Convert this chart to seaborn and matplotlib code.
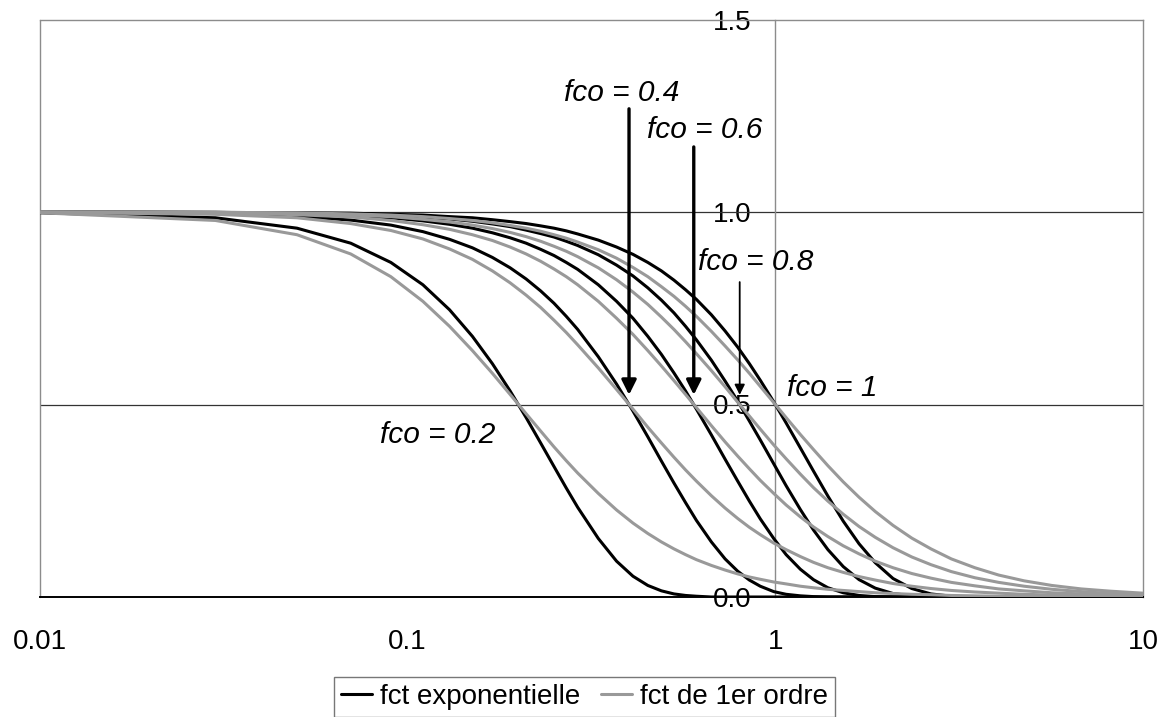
import matplotlib
matplotlib.use("Agg")
import matplotlib.pyplot as plt
import pandas as pd
import seaborn as sns
from matplotlib.lines import Line2D
from matplotlib.ticker import NullLocator

sns.set_style("white")
plt.rcParams["font.family"] = ["Liberation Sans", "DejaVu Sans"]
plt.rcParams["text.color"] = "black"
plt.rcParams["xtick.color"] = "black"
plt.rcParams["ytick.color"] = "black"
plt.rcParams["xtick.labelcolor"] = "black"
plt.rcParams["ytick.labelcolor"] = "black"

# Frequency samples (log axis)
freq = [0.01, 0.03, 0.05, 0.07, 0.09, 0.11, 0.13, 0.15, 0.17, 0.19,
        0.21, 0.23, 0.25, 0.27, 0.29, 0.33, 0.37, 0.41, 0.45, 0.49,
        0.53, 0.57, 0.61, 0.67, 0.73, 0.79, 0.85, 0.91, 0.99, 1.07,
        1.17, 1.27, 1.39, 1.53, 1.69, 1.87, 2.09, 2.35, 2.65, 3.01,
        3.49, 4.05, 4.75, 5.65, 6.79, 8.19, 9.99]

cutoffs = [0.2, 0.4, 0.6, 0.8, 1.0]

# Exponential transfer function, one list per cutoff frequency
expo_02 = [0.998, 0.985, 0.958, 0.919, 0.869, 0.811, 0.746, 0.677, 0.606, 0.535,
           0.466, 0.400, 0.339, 0.283, 0.233, 0.152, 0.093, 0.054, 0.030, 0.016,
           0.008, 0.004, 0.002, 0.000, 0.000, 0.000, 0.000, 0.000, 0.000, 0.000,
           0.000, 0.000, 0.000, 0.000, 0.000, 0.000, 0.000, 0.000, 0.000, 0.000,
           0.000, 0.000, 0.000, 0.000, 0.000, 0.000, 0.000]
expo_04 = [1.000, 0.996, 0.989, 0.979, 0.966, 0.949, 0.929, 0.907, 0.882, 0.855,
           0.826, 0.795, 0.763, 0.729, 0.695, 0.624, 0.553, 0.483, 0.416, 0.353,
           0.296, 0.245, 0.199, 0.143, 0.099, 0.067, 0.044, 0.028, 0.014, 0.007,
           0.003, 0.001, 0.000, 0.000, 0.000, 0.000, 0.000, 0.000, 0.000, 0.000,
           0.000, 0.000, 0.000, 0.000, 0.000, 0.000, 0.000]
expo_06 = [1.000, 0.998, 0.995, 0.991, 0.985, 0.977, 0.968, 0.958, 0.946, 0.933,
           0.919, 0.903, 0.887, 0.869, 0.851, 0.811, 0.768, 0.724, 0.677, 0.630,
           0.582, 0.535, 0.488, 0.421, 0.358, 0.301, 0.249, 0.203, 0.152, 0.110,
           0.072, 0.045, 0.024, 0.011, 0.004, 0.001, 0.000, 0.000, 0.000, 0.000,
           0.000, 0.000, 0.000, 0.000, 0.000, 0.000, 0.000]
expo_08 = [1.000, 0.999, 0.997, 0.995, 0.991, 0.987, 0.982, 0.976, 0.969, 0.962,
           0.953, 0.944, 0.935, 0.924, 0.913, 0.889, 0.862, 0.834, 0.803, 0.771,
           0.738, 0.703, 0.668, 0.615, 0.561, 0.509, 0.457, 0.408, 0.346, 0.289,
           0.227, 0.174, 0.123, 0.079, 0.045, 0.023, 0.009, 0.003, 0.000, 0.000,
           0.000, 0.000, 0.000, 0.000, 0.000, 0.000, 0.000]
expo_10 = [1.000, 0.999, 0.998, 0.997, 0.994, 0.992, 0.988, 0.985, 0.980, 0.975,
           0.970, 0.964, 0.958, 0.951, 0.943, 0.927, 0.909, 0.890, 0.869, 0.847,
           0.823, 0.798, 0.773, 0.733, 0.691, 0.649, 0.606, 0.563, 0.507, 0.452,
           0.387, 0.327, 0.262, 0.197, 0.138, 0.089, 0.048, 0.022, 0.008, 0.002,
           0.000, 0.000, 0.000, 0.000, 0.000, 0.000, 0.000]

# First-order transfer function, one list per cutoff frequency
first_02 = [0.998, 0.978, 0.941, 0.891, 0.832, 0.768, 0.703, 0.640, 0.581, 0.526,
            0.476, 0.431, 0.390, 0.354, 0.322, 0.269, 0.226, 0.192, 0.165, 0.143,
            0.125, 0.110, 0.097, 0.082, 0.070, 0.060, 0.052, 0.046, 0.039, 0.034,
            0.028, 0.024, 0.020, 0.017, 0.014, 0.011, 0.009, 0.007, 0.006, 0.004,
            0.003, 0.002, 0.002, 0.001, 0.001, 0.001, 0.000]
first_04 = [0.999, 0.994, 0.985, 0.970, 0.952, 0.930, 0.904, 0.877, 0.847, 0.816,
            0.784, 0.752, 0.719, 0.687, 0.655, 0.595, 0.539, 0.488, 0.441, 0.400,
            0.363, 0.330, 0.301, 0.263, 0.231, 0.204, 0.181, 0.162, 0.140, 0.123,
            0.105, 0.090, 0.076, 0.064, 0.053, 0.044, 0.035, 0.028, 0.022, 0.017,
            0.013, 0.010, 0.007, 0.005, 0.003, 0.002, 0.002]
first_06 = [1.000, 0.998, 0.993, 0.987, 0.978, 0.967, 0.955, 0.941, 0.926, 0.909,
            0.891, 0.872, 0.852, 0.832, 0.811, 0.768, 0.724, 0.682, 0.640, 0.600,
            0.562, 0.526, 0.492, 0.445, 0.403, 0.366, 0.333, 0.303, 0.269, 0.239,
            0.208, 0.182, 0.157, 0.133, 0.112, 0.093, 0.076, 0.061, 0.049, 0.038,
            0.029, 0.021, 0.016, 0.011, 0.008, 0.005, 0.004]
first_08 = [1.000, 0.999, 0.996, 0.992, 0.988, 0.981, 0.974, 0.966, 0.957, 0.947,
            0.936, 0.924, 0.911, 0.898, 0.884, 0.855, 0.824, 0.792, 0.760, 0.727,
            0.695, 0.663, 0.632, 0.588, 0.546, 0.506, 0.470, 0.436, 0.395, 0.359,
            0.319, 0.284, 0.249, 0.215, 0.183, 0.155, 0.128, 0.104, 0.084, 0.066,
            0.050, 0.038, 0.028, 0.020, 0.014, 0.009, 0.006]
first_10 = [1.000, 0.999, 0.998, 0.995, 0.992, 0.988, 0.983, 0.978, 0.972, 0.965,
            0.958, 0.950, 0.941, 0.932, 0.922, 0.902, 0.880, 0.856, 0.832, 0.806,
            0.781, 0.755, 0.729, 0.690, 0.652, 0.616, 0.581, 0.547, 0.505, 0.466,
            0.422, 0.383, 0.341, 0.299, 0.259, 0.222, 0.186, 0.153, 0.125, 0.099,
            0.076, 0.057, 0.042, 0.030, 0.021, 0.015, 0.010]

series_names = ["fct exponentielle", "fct de 1er ordre"]
x_ticks = [0.01, 0.1, 1, 10]
x_labels = ["0.01", "0.1", "1", "10"]
y_ticks = [0.0, 0.5, 1.0, 1.5]
y_labels = ["0.0", "0.5", "1.0", "1.5"]
note_labels = ["fco = 0.2", "fco = 0.4", "fco = 0.6", "fco = 0.8", "fco = 1"]

# Long-form table for seaborn
rows = []
for name, curves in zip(series_names,
                        [[expo_02, expo_04, expo_06, expo_08, expo_10],
                         [first_02, first_04, first_06, first_08, first_10]]):
    for fco, gains in zip(cutoffs, curves):
        for f, g in zip(freq, gains):
            rows.append({"f": f, "gain": g, "type": name, "fco": fco})
df = pd.DataFrame(rows)

BLACK = "#000000"
GREY = "#999999"
FRAME = "#8c8c8c"

fig = plt.figure(figsize=(11.69, 7.17), dpi=100)
ax = fig.add_axes([40 / 1169, 120 / 717, 1103 / 1169, 577.5 / 717])

sns.lineplot(data=df, x="f", y="gain", hue="type", hue_order=series_names,
             units="fco", estimator=None, sort=False,
             palette={series_names[0]: BLACK, series_names[1]: GREY},
             linewidth=2.2, legend=False, ax=ax, zorder=3)

ax.set_xscale("log")
ax.set_xlim(0.01, 10)
ax.set_ylim(0, 1.5)
ax.set_xlabel("")
ax.set_ylabel("")

# horizontal gridlines
for v in [0.5, 1.0]:
    ax.axhline(v, color="#333333", lw=0.9, zorder=1)

# value axis crosses at f = 1
ax.spines["left"].set_position(("data", 1))
ax.spines["left"].set_color(FRAME)
ax.spines["left"].set_linewidth(1.0)
for side in ["top", "right"]:
    ax.spines[side].set_color(FRAME)
    ax.spines[side].set_linewidth(1.0)
ax.spines["bottom"].set_color(BLACK)
ax.spines["bottom"].set_linewidth(1.4)
ax.axvline(0.01, color=FRAME, lw=1.0, clip_on=False, zorder=1)

ax.set_xticks(x_ticks)
ax.set_xticklabels(x_labels)
ax.xaxis.set_minor_locator(NullLocator())
ax.tick_params(axis="x", direction="out", length=6, width=1.0,
               color="#555555", labelcolor="black", pad=17, labelsize=20)
ax.set_yticks(y_ticks)
ax.set_yticklabels(y_labels)
ax.tick_params(axis="y", direction="inout", length=13, width=1.2,
               color="#333333", labelcolor="black", pad=10.5, labelsize=20)

# cutoff annotations
note_x = [0.084, 0.267, 0.449, 0.618, 1.078]
note_y = [0.421, 1.309, 1.213, 0.870, 0.543]
for txt, tx, ty in zip(note_labels, note_x, note_y):
    ax.text(tx, ty, txt, fontsize=21.5, fontstyle="italic", color="black",
            ha="left", va="center", zorder=5)

arrow_specs = [(cutoffs[1], 1.268, 2.4, 22),
               (cutoffs[2], 1.169, 2.4, 22),
               (cutoffs[3], 0.818, 1.3, 15)]
for fx, y0, lw, ms in arrow_specs:
    ax.annotate("", xy=(fx, 0.525), xytext=(fx, y0),
                arrowprops=dict(arrowstyle="-|>", lw=lw, color=BLACK,
                                mutation_scale=ms, shrinkA=0, shrinkB=0),
                zorder=6)

handles = [Line2D([], [], color=BLACK, lw=2.2),
           Line2D([], [], color=GREY, lw=2.2)]
leg = fig.legend(handles, series_names, loc="upper center",
                 bbox_to_anchor=(0.5, 1 - 677 / 717), ncol=2, frameon=True,
                 fancybox=False, edgecolor="#555555", fontsize=20,
                 handlelength=1.1, handletextpad=0.3, columnspacing=0.75,
                 borderpad=0.25, borderaxespad=0)
leg.get_frame().set_linewidth(1.0)
for t in leg.get_texts():
    t.set_color("black")

fig.savefig("out.png", dpi=100, facecolor="white")
